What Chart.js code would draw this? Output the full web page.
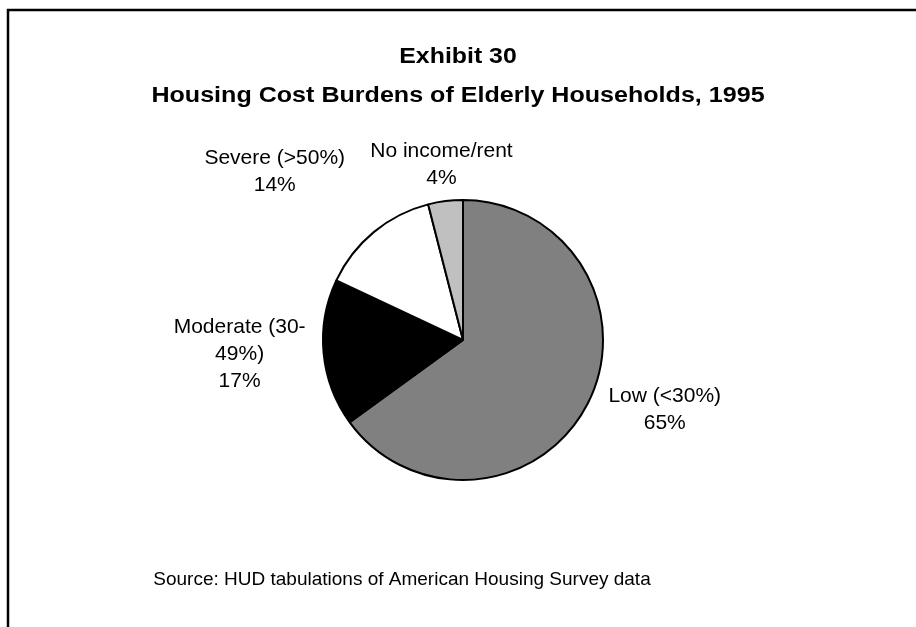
<!DOCTYPE html>
<html>
<head>
<meta charset="utf-8">
<script src="https://cdn.jsdelivr.net/npm/chart.js@4/dist/chart.umd.min.js"></script>
<style>
  html, body { margin: 0; padding: 0; background: #fff; }
  #wrap { width: 916px; height: 627px; }
</style>
</head>
<body>
<div id="wrap"><canvas id="chart"></canvas></div>
<script>
const categories = ['Low (<30%)', 'Moderate (30-49%)', 'Severe (>50%)', 'No income/rent'];
const shares = [65, 17, 14, 4];
// how each label is broken over lines in the picture
const labelLines = [
    ['Low (<30%)', '65%'],
    ['Moderate (30-', '49%)', '17%'],
    ['Severe (>50%)', '14%'],
    ['No income/rent', '4%']
];
const sliceColors = ['#808080', '#000000', '#ffffff', '#c0c0c0'];

// label block offset from the slice's outer edge at its mid angle
const labelOffsets = [[77, 6], [-84, 1], [-99, -60], [-4, -36]];

const titleLines = ['Exhibit 30', 'Housing Cost Burdens of Elderly Households, 1995'];
const sourceText = 'Source: HUD tabulations of American Housing Survey data';

const FONT = '"Liberation Sans", Arial, sans-serif';

const framePlugin = {
    id: 'frame',
    beforeDraw(chart) {
        const ctx = chart.ctx;
        ctx.save();
        ctx.fillStyle = '#fff';
        ctx.fillRect(0, 0, chart.width, chart.height);
        ctx.strokeStyle = '#000';
        ctx.lineWidth = 2.5;
        ctx.beginPath();
        ctx.moveTo(8, chart.height);
        ctx.lineTo(8, 10);
        ctx.lineTo(chart.width, 10);
        ctx.stroke();
        ctx.restore();
    }
};

// the title face in the original is a bit wider than Arial bold
function wideText(ctx, text, x, y, sx) {
    ctx.save();
    ctx.translate(x, y);
    ctx.scale(sx, 1);
    ctx.fillText(text, 0, 0);
    ctx.restore();
}

const textPlugin = {
    id: 'texts',
    afterDraw(chart) {
        const ctx = chart.ctx;
        ctx.save();
        ctx.fillStyle = '#000';
        ctx.textAlign = 'center';
        ctx.textBaseline = 'middle';

        ctx.font = 'bold 22px ' + FONT;
        wideText(ctx, titleLines[0], 458, 57, 1.13);
        wideText(ctx, titleLines[1], 458, 96, 1.14);

        ctx.font = '19px ' + FONT;
        ctx.fillText(sourceText, 402, 580);

        ctx.font = '21px ' + FONT;
        const meta = chart.getDatasetMeta(0);
        meta.data.forEach((arc, i) => {
            const mid = (arc.startAngle + arc.endAngle) / 2;
            const ex = arc.x + Math.cos(mid) * arc.outerRadius;
            const ey = arc.y + Math.sin(mid) * arc.outerRadius;
            const cx = ex + labelOffsets[i][0];
            const cy = ey + labelOffsets[i][1];
            const lines = labelLines[i];
            const lh = 27;
            const y0 = cy - (lines.length - 1) * lh / 2;
            lines.forEach((t, j) => ctx.fillText(t, cx, y0 + j * lh));
        });
        ctx.restore();
    }
};

new Chart(document.getElementById('chart').getContext('2d'), {
    type: 'pie',
    data: {
        labels: categories,
        datasets: [
            {
                data: shares,
                backgroundColor: sliceColors,
                borderColor: '#000',
                borderWidth: 2,
                hoverOffset: 0
            }
        ]
    },
    options: {
        responsive: true,
        maintainAspectRatio: false,
        animation: false,
        layout: {
            padding: { left: 322, right: 312, top: 199, bottom: 146 }
        },
        plugins: {
            legend: { display: false },
            tooltip: { enabled: false },
            title: { display: false }
        }
    },
    plugins: [framePlugin, textPlugin]
});
</script>
</body>
</html>
